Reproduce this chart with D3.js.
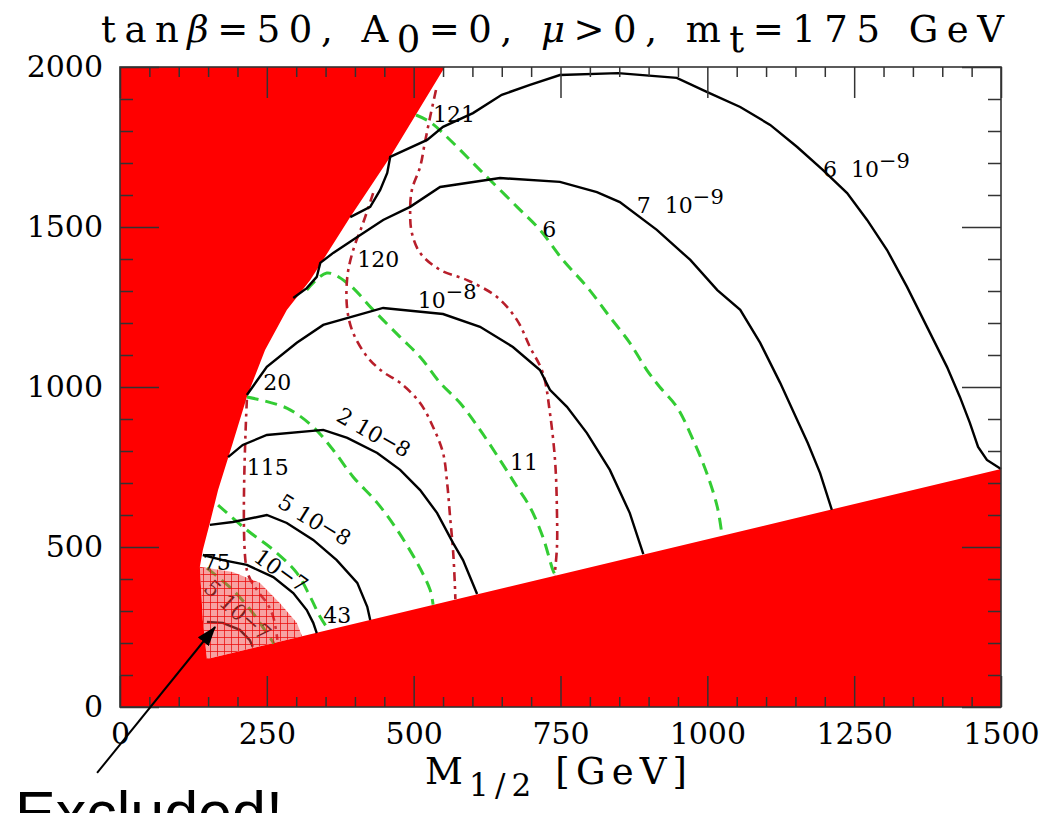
<!DOCTYPE html>
<html>
<head>
<meta charset="utf-8">
<script src="https://cdn.jsdelivr.net/npm/d3@7"></script>
<style>
  body { margin: 0; background: #fff; }
  svg { display: block; }
</style>
</head>
<body>
<svg id="chart" width="1057" height="813"></svg>
<script>
// ---- data, in (M1/2, m0) GeV ----
const xMajor = [0, 250, 500, 750, 1000, 1250, 1500];
const yMajor = [0, 500, 1000, 1500, 2000];

// edge of the excluded region (charged LSP / no EWSB)
const leftEdge = [[553,2000],[460,1719],[392,1531],[324,1334],[284,1241],[247,1116],[216,969],
  [192,825],[167,678],[153,575],[141,491],[136,438],[141,272],[148,150]];
const lowerEdge = [[148,150],[1500,744]];
// hatched region excluded by b -> s gamma
const bsgArc = [[136,438],[192,422],[238,388],[272,325],[301,263],[310,221]];

// BR contours (solid black)
const br6e9 = [[392,1531],[426,1563],[443,1616],[455,1669],[460,1719],[523,1772],[550,1813],[601,1856],
  [650,1913],[698,1944],[749,1975],[848,1981],[948,1966],[999,1922],[1056,1875],[1107,1819],[1153,1750],
  [1197,1678],[1238,1606],[1272,1522],[1306,1428],[1340,1313],[1374,1188],[1408,1063],[1430,969],
  [1447,888],[1461,813],[1476,772],[1500,744]];
const br7e9 = [[295,1278],[318,1309],[335,1344],[341,1388],[363,1419],[404,1469],[448,1522],[494,1563],
  [545,1625],[647,1653],[749,1641],[812,1609],[851,1578],[914,1491],[971,1397],[1017,1303],[1056,1241],
  [1090,1138],[1124,1013],[1153,897],[1171,825],[1192,731],[1212,616]];
const br1e8 = [[216,975],[250,1063],[301,1138],[346,1194],[448,1247],[550,1228],[613,1188],[669,1125],
  [715,1053],[732,991],[761,938],[795,856],[834,741],[868,606],[891,478]];
const br2e8 = [[184,781],[209,819],[250,850],[346,866],[387,841],[438,794],[477,741],[511,678],
  [540,606],[567,513],[584,459],[608,353]];
const br5e8 = [[153,569],[192,578],[250,600],[284,575],[329,522],[369,459],[404,388],[421,313],[426,272]];
const br1e7 = [[141,475],[175,459],[216,444],[261,406],[295,356],[318,303],[329,263],[335,231]];
const br5e7 = [[148,266],[175,263],[204,241],[221,209],[226,188]];

// g-2 contours (green dashed)
const g75 = [[148,434],[192,366],[226,294],[250,231],[262,199]];
const g43 = [[167,631],[216,553],[261,491],[301,419],[324,344],[341,281],[355,241]];
const g20 = [[216,969],[284,934],[329,875],[363,803],[397,719],[438,638],[472,553],[506,450],[528,366],[533,320]];
const g11 = [[318,1303],[352,1356],[387,1325],[431,1241],[477,1156],[511,1094],[545,1013],[579,950],
  [613,866],[647,772],[676,688],[698,625],[720,531],[737,428],[741,412]];
const g6 = [[504,1850],[528,1828],[562,1772],[601,1700],[630,1647],[676,1563],[715,1491],[754,1397],
  [795,1313],[834,1219],[868,1138],[897,1053],[919,1000],[948,938],[976,834],[999,731],[1017,625],[1025,536]];

// Higgs mass contours (red dot-dash)
const h115 = [[216,960],[216,428],[233,366],[250,325],[261,281],[268,210]];
const h120 = [[431,1606],[414,1513],[397,1428],[387,1344],[387,1241],[397,1169],[421,1094],[448,1047],
  [477,1013],[511,950],[533,875],[550,794],[557,700],[562,594],[567,491],[570,388],[571,337]];
const h121 = [[538,1928],[528,1844],[519,1763],[511,1688],[497,1616],[494,1544],[497,1481],[511,1419],
  [545,1366],[591,1334],[642,1281],[676,1209],[698,1125],[720,1044],[732,919],[741,763],[744,606],
  [744,500],[740,412]];

const plainLabels = [
  { text: "121", at: [533,1828] },
  { text: "120", at: [404,1375] },
  { text: "115", at: [216,725] },
  { text: "6", at: [719,1469] },
  { text: "11", at: [664,741] },
  { text: "20", at: [244,991] },
  { text: "43", at: [346,263] },
  { text: "75", at: [141,428] },
];
const brLabels = [
  { text: "6\u00a0\u00a010", sup: "\u22129", at: [1197,1656], rot: 0 },
  { text: "7\u00a0\u00a010", sup: "\u22129", at: [880,1544], rot: 0 },
  { text: "10", sup: "\u22128", at: [507,1247], rot: 0 },
  { text: "2\u00a010", sup: "\u22128", at: [366,897], rot: 30 },
  { text: "5\u00a010", sup: "\u22128", at: [266,628], rot: 32 },
  { text: "10", sup: "\u22127", at: [225,459], rot: 36 },
  { text: "5\u00a010", sup: "\u22127", at: [140,366], rot: 42 },
];
const arrowFromTo = [[-39,-206],[162,250]];

// ---- drawing ----
const svg = d3.select("#chart");
const x = d3.scaleLinear().domain([0, 1500]).range([120, 1001]);
const y = d3.scaleLinear().domain([0, 2000]).range([707, 67]);
const serif = "'DejaVu Serif', serif";

const defs = svg.append("defs");
const pat = defs.append("pattern").attr("id", "hatch")
  .attr("patternUnits", "userSpaceOnUse").attr("width", 7).attr("height", 7);
pat.append("rect").attr("width", 7).attr("height", 7).attr("fill", "rgba(240,70,70,0.5)");
pat.append("path").attr("d", "M0 0.5H7M0.5 0V7")
  .attr("stroke", "rgba(235,10,10,0.75)").attr("stroke-width", 1);

defs.append("marker").attr("id", "arrowhead")
  .attr("markerUnits", "userSpaceOnUse")
  .attr("viewBox", "0 0 20 14").attr("refX", 19).attr("refY", 7)
  .attr("markerWidth", 20).attr("markerHeight", 14).attr("orient", "auto")
  .append("path").attr("d", "M0 0L20 7L0 14Z").attr("fill", "#000");

const poly = d3.line().x(d => x(d[0])).y(d => y(d[1]));
const smooth = d3.line().x(d => x(d[0])).y(d => y(d[1])).curve(d3.curveCatmullRom.alpha(0.5));

// red excluded area
const redArea = [[0,0],[0,2000]].concat(leftEdge, lowerEdge.slice(1), [[1500,0]]);
svg.append("path").attr("d", poly(redArea) + "Z").attr("fill", "#ff0000");

const curves = svg.append("g").attr("fill", "none");

[g75, g43, g20, g11, g6].forEach(c => {
  curves.append("path").attr("d", smooth(c))
    .attr("stroke", "#33cc33").attr("stroke-width", 3)
    .attr("stroke-dasharray", "12,7");
});

[h115, h120, h121].forEach(c => {
  curves.append("path").attr("d", smooth(c))
    .attr("stroke", "#b81e2a").attr("stroke-width", 2.6)
    .attr("stroke-dasharray", "9,5,3,5");
});

[br6e9, br7e9, br1e8, br2e8, br5e8, br1e7, br5e7].forEach(c => {
  curves.append("path").attr("d", poly(c))
    .attr("stroke", "#000").attr("stroke-width", 2.4);
});

// labels
const labels = svg.append("g").style("font-family", serif).style("font-size", "22px").attr("fill", "#000");

plainLabels.forEach(l => {
  labels.append("text").attr("x", x(l.at[0])).attr("y", y(l.at[1])).text(l.text);
});

brLabels.forEach(l => {
  const px = x(l.at[0]), py = y(l.at[1]);
  const t = labels.append("text").attr("x", px).attr("y", py)
    .attr("transform", l.rot ? `rotate(${l.rot},${px},${py})` : null);
  t.append("tspan").text(l.text);
  t.append("tspan").attr("dy", l.rot ? -2 : -9).style("font-size", "21px").text(l.sup);
});

// hatched b->s gamma region
const pinkArea = bsgArc.concat([[148,150]], [[141,272]]);
svg.append("path").attr("d", poly(pinkArea) + "Z").attr("fill", "url(#hatch)");

// ticks
const tickCol = "#333";
function addAxis(axis, tx, ty) {
  const g = svg.append("g").attr("transform", `translate(${tx},${ty})`).call(axis);
  g.select(".domain").remove();
  g.selectAll(".tick line").attr("stroke", tickCol).attr("stroke-width", 1.5);
  return g;
}
const xMinor = d3.range(0, 1501, 50).filter(v => v % 250 !== 0);
const yMinor = d3.range(0, 2001, 100).filter(v => v % 500 !== 0);

addAxis(d3.axisBottom(x).tickValues(xMinor).tickSize(-10).tickFormat(""), 0, 707);
addAxis(d3.axisTop(x).tickValues(xMinor).tickSize(-10).tickFormat(""), 0, 67);
addAxis(d3.axisLeft(y).tickValues(yMinor).tickSize(-13).tickFormat(""), 120, 0);
addAxis(d3.axisRight(y).tickValues(yMinor).tickSize(-13).tickFormat(""), 1001, 0);
addAxis(d3.axisTop(x).tickValues(xMajor).tickSize(-31).tickFormat(""), 0, 67);
addAxis(d3.axisRight(y).tickValues(yMajor).tickSize(-39).tickFormat(""), 1001, 0);

const xb = addAxis(d3.axisBottom(x).tickValues(xMajor).tickSize(-31).tickPadding(16).tickFormat(d3.format("d")), 0, 707);
const yl = addAxis(d3.axisLeft(y).tickValues(yMajor).tickSize(-39).tickPadding(17).tickFormat(d3.format("d")), 120, 0);
[xb, yl].forEach(g => g.selectAll("text")
  .style("font-family", serif).style("font-size", "30px").attr("fill", "#000"));

svg.append("rect").attr("x", 120).attr("y", 67).attr("width", 881).attr("height", 640)
  .attr("fill", "none").attr("stroke", tickCol).attr("stroke-width", 1.6);

// spread a text element to a given width
function fitWidth(sel, width) {
  const n = sel.text().length;
  const w = sel.node().getComputedTextLength();
  sel.style("letter-spacing", ((width - w) / (n - 1)) + "px");
}

// title
const title = svg.append("text").attr("x", 101).attr("y", 42)
  .style("font-family", serif).style("font-size", "37px").attr("fill", "#000");
title.append("tspan").text("tan");
title.append("tspan").style("font-style", "italic").text("\u03b2");
title.append("tspan").text("=50, A");
title.append("tspan").attr("dy", 10).text("0");
title.append("tspan").attr("dy", -10).text("=0, ");
title.append("tspan").style("font-style", "italic").text("\u03bc");
title.append("tspan").text(">0, m");
title.append("tspan").attr("dy", 10).text("t");
title.append("tspan").attr("dy", -10).text("=175 GeV");
fitWidth(title, 903);

// x axis title
const xt = svg.append("text").attr("x", 425).attr("y", 784)
  .style("font-family", serif).style("font-size", "37px").attr("fill", "#000");
xt.append("tspan").text("M");
xt.append("tspan").attr("dy", 12).style("font-size", "31px").text("1/2");
xt.append("tspan").attr("dy", -12).text(" [GeV]");
fitWidth(xt, 262);

// arrow + note
svg.append("line")
  .attr("x1", x(arrowFromTo[0][0])).attr("y1", y(arrowFromTo[0][1]))
  .attr("x2", x(arrowFromTo[1][0])).attr("y2", y(arrowFromTo[1][1]))
  .attr("stroke", "#000").attr("stroke-width", 2).attr("marker-end", "url(#arrowhead)");

// the note sits at the bottom edge, partly cut off as in the source image
svg.append("text").attr("x", 15).attr("y", 834)
  .style("font-family", "'Liberation Sans', Arial, sans-serif").style("font-size", "61px")
  .attr("fill", "#000").text("Excluded!");
</script>
</body>
</html>
